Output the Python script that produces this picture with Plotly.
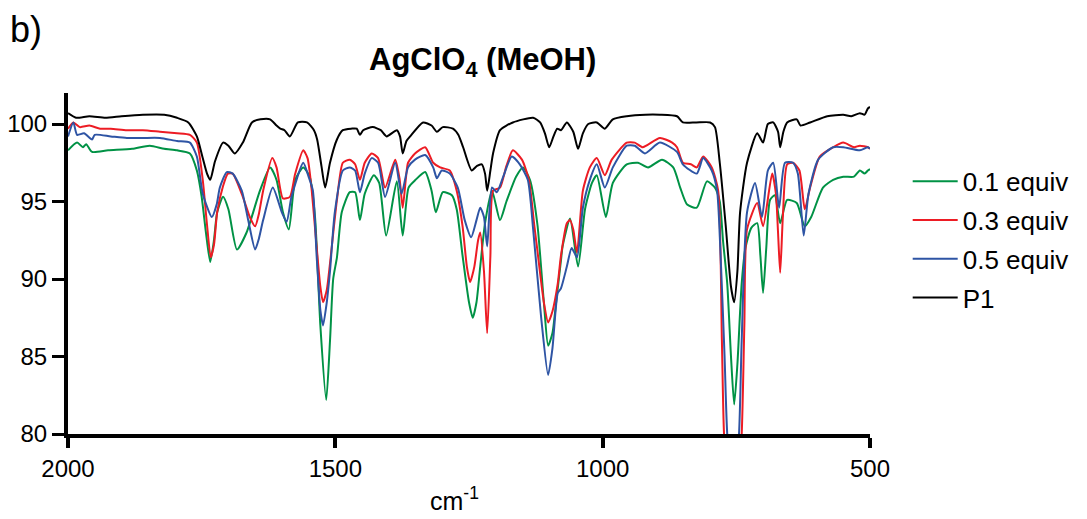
import plotly.graph_objects as go

# ---- data (wavenumber in cm-1, transmittance %) ----
p1_x = [2000, 1985, 1960, 1930, 1900, 1860, 1820, 1796, 1775, 1759, 1748, 1740, 1734, 1725, 1710, 1700, 1688, 1673,
        1656, 1640, 1622, 1610, 1603, 1595, 1585, 1570, 1553, 1540, 1534, 1526, 1519, 1510, 1497, 1486, 1470, 1460,
        1454, 1448, 1430, 1415, 1404, 1385, 1379, 1374, 1367, 1360, 1336, 1320, 1310, 1299, 1280, 1270, 1261, 1245,
        1235, 1226, 1220, 1216, 1210, 1205, 1192, 1168, 1130, 1117, 1108, 1100, 1092, 1085, 1078, 1067, 1055, 1046,
        1037, 1027, 1011, 996, 981, 955, 920, 893, 861, 850, 825, 799, 790, 781, 770, 760, 754, 748, 743, 730, 711,
        700, 691, 681, 672, 668, 662, 655, 637, 630, 612, 580, 550, 535, 519, 510, 504, 500]
p1_y = [100.7, 100.4, 100.5, 100.4, 100.5, 100.6, 100.6, 100.4, 100.1, 99.2, 97.8, 96.8, 96.4, 97.6, 98.8, 98.6, 98.1,
        98.8, 100.1, 100.3, 100.3, 99.9, 99.7, 99.6, 99.2, 100.1, 100.1, 99.6, 99.0, 97.3, 95.9, 97.5, 99.0, 99.6,
        99.7, 99.7, 99.3, 99.6, 99.8, 99.6, 99.2, 99.6, 99.2, 98.1, 98.9, 99.2, 100.1, 99.9, 99.5, 99.8, 99.7, 99.3,
        98.5, 97.0, 97.3, 97.4, 96.8, 95.7, 97.0, 98.1, 99.6, 100.1, 100.4, 100.1, 99.4, 98.5, 99.2, 99.7, 99.6,
        100.1, 99.5, 98.4, 99.4, 100.0, 100.1, 99.7, 100.3, 100.5, 100.6, 100.6, 100.5, 100.1, 100.1, 100.1, 99.8,
        97.5, 93.5, 89.5, 88.5, 90.5, 94.3, 97.5, 99.4, 98.8, 100.0, 100.1, 99.5, 98.5, 99.5, 100.1, 100.3, 99.9,
        100.1, 100.5, 100.6, 100.5, 100.7, 100.6, 101.0, 101.1]

eq03_x = [2000, 1990, 1978, 1960, 1940, 1920, 1890, 1860, 1828, 1796, 1772, 1759, 1748, 1740, 1733, 1727, 1721, 1710,
          1701, 1692, 1673, 1660, 1650, 1643, 1635, 1618, 1610, 1598, 1585, 1575, 1560, 1552, 1545, 1535, 1528, 1523,
          1516, 1510, 1497, 1486, 1473, 1463, 1454, 1445, 1432, 1420, 1407, 1388, 1380, 1374, 1368, 1364, 1351, 1332,
          1317, 1304, 1286, 1273, 1262, 1254, 1248, 1240, 1233, 1229, 1222, 1216, 1210, 1205, 1192, 1180, 1168, 1151,
          1138, 1128, 1123, 1110, 1102, 1094, 1084, 1078, 1067, 1061, 1055, 1048, 1037, 1024, 1011, 996, 983, 955,
          940, 925, 893, 870, 861, 850, 835, 824, 812, 796, 784, 777, 773, 760, 745, 740, 735, 730, 711, 700, 683,
          676, 672, 668, 663, 655, 644, 632, 622, 612, 594, 569, 550, 530, 519, 504, 500]
eq03_y = [99.7, 100.1, 99.8, 99.9, 99.7, 99.7, 99.6, 99.6, 99.5, 99.4, 99.3, 98.8, 96.4, 93.5, 91.4, 92.2, 94.3, 96.0,
          96.8, 96.8, 95.3, 94.0, 93.4, 94.2, 95.7, 97.8, 97.2, 95.2, 95.3, 96.8, 98.3, 97.8, 96.0, 92.1, 89.5, 88.5,
          89.3, 91.0, 95.1, 97.5, 97.7, 97.4, 96.4, 97.5, 98.1, 97.8, 95.9, 97.7, 96.5, 94.6, 96.5, 97.5, 98.1, 98.5,
          97.5, 97.2, 97.0, 95.7, 93.4, 90.8, 89.8, 90.8, 92.5, 93.0, 90.5, 86.5, 91.5, 95.7, 95.9, 97.3, 98.3, 97.7,
          96.4, 93.5, 92.1, 88.5, 87.2, 87.9, 89.7, 91.5, 93.6, 93.8, 93.2, 91.7, 95.7, 97.2, 97.8, 96.7, 97.7, 98.8,
          98.8, 98.5, 99.1, 98.8, 98.5, 97.5, 97.4, 97.2, 97.9, 97.2, 95.7, 86.0, 80.0, 74.0, 78.0, 80.0, 87.0, 93.2,
          94.9, 93.4, 96.8, 95.5, 93.0, 90.4, 94.0, 97.4, 97.5, 97.0, 94.5, 95.9, 97.9, 98.5, 98.8, 98.5, 98.6, 98.5,
          98.4]

eq05_x = [2000, 1990, 1983, 1970, 1955, 1950, 1920, 1890, 1860, 1828, 1796, 1772, 1759, 1748, 1731, 1722, 1716, 1703,
          1692, 1675, 1663, 1650, 1643, 1635, 1617, 1600, 1591, 1582, 1560, 1550, 1542, 1535, 1528, 1523, 1516, 1510,
          1501, 1486, 1473, 1463, 1454, 1445, 1432, 1420, 1407, 1388, 1376, 1364, 1351, 1332, 1317, 1310, 1301, 1286,
          1271, 1258, 1246, 1236, 1229, 1222, 1216, 1207, 1198, 1186, 1170, 1155, 1140, 1130, 1115, 1102, 1094, 1084,
          1078, 1067, 1058, 1048, 1037, 1024, 1011, 996, 981, 955, 940, 921, 893, 861, 850, 824, 812, 796, 786, 780,
          772, 767, 756, 745, 740, 730, 715, 702, 691, 681, 670, 659, 644, 635, 624, 615, 597, 569, 550, 519, 504, 500]
eq05_y = [99.2, 100.1, 99.3, 99.4, 99.0, 99.3, 99.2, 99.1, 99.1, 99.1, 98.9, 98.8, 97.9, 95.5, 94.0, 94.8, 95.9, 96.9,
          96.8, 95.7, 93.8, 91.9, 92.6, 93.8, 95.9, 94.3, 93.7, 95.3, 97.5, 96.6, 95.7, 91.5, 88.0, 87.0, 88.5, 90.5,
          94.3, 97.0, 97.2, 97.0, 95.6, 96.8, 97.8, 97.5, 95.3, 97.5, 95.5, 97.2, 97.7, 98.0, 97.2, 96.5, 97.0, 96.8,
          95.9, 93.8, 92.7, 93.8, 94.6, 94.0, 92.1, 95.9, 95.6, 96.6, 97.9, 97.4, 96.4, 93.2, 87.5, 83.8, 85.5, 89.1,
          89.4, 90.8, 92.0, 91.4, 94.6, 96.4, 97.4, 95.9, 97.2, 98.6, 98.6, 98.1, 98.8, 98.2, 97.4, 96.8, 97.8, 97.0,
          95.7, 92.0, 85.0, 80.0, 76.0, 80.0, 86.0, 94.3, 96.2, 94.0, 97.0, 97.5, 94.6, 97.5, 97.5, 96.8, 92.8, 95.5,
          97.7, 98.5, 98.5, 98.3, 98.5, 98.4]

eq01_x = [2000, 1983, 1972, 1966, 1955, 1925, 1880, 1847, 1820, 1796, 1772, 1759, 1750, 1742, 1734, 1727, 1721, 1710,
          1700, 1684, 1666, 1641, 1622, 1610, 1598, 1587, 1575, 1560, 1548, 1538, 1528, 1517, 1510, 1504, 1497, 1488,
          1473, 1463, 1454, 1445, 1428, 1418, 1405, 1385, 1374, 1363, 1350, 1332, 1320, 1312, 1299, 1282, 1273, 1262,
          1250, 1243, 1236, 1229, 1220, 1207, 1192, 1180, 1162, 1149, 1136, 1122, 1110, 1102, 1094, 1087, 1078, 1075,
          1061, 1046, 1033, 1020, 1011, 994, 981, 955, 934, 915, 889, 868, 855, 842, 824, 805, 790, 781, 775, 767,
          760, 754, 748, 740, 733, 722, 711, 705, 700, 694, 687, 678, 668, 655, 637, 622, 610, 588, 569, 550, 530,
          519, 510, 504, 500]
eq01_y = [98.3, 98.8, 98.5, 98.7, 98.2, 98.3, 98.4, 98.6, 98.4, 98.3, 98.1, 97.0, 95.3, 93.0, 91.1, 92.5, 94.3, 95.3,
          94.5, 91.9, 93.0, 95.7, 97.2, 96.4, 94.3, 93.2, 96.4, 97.2, 96.6, 94.0, 87.0, 82.2, 86.0, 90.0, 91.4, 94.3,
          95.6, 95.6, 93.8, 95.5, 96.7, 96.2, 92.8, 96.3, 92.8, 95.9, 96.4, 96.9, 95.7, 94.3, 95.6, 95.4, 94.5, 91.5,
          88.5, 87.5, 88.5, 90.8, 93.6, 95.7, 93.8, 95.0, 96.6, 97.2, 96.4, 93.5, 88.5, 85.7, 86.5, 88.5, 91.2, 92.1,
          93.9, 90.8, 94.5, 96.2, 96.7, 94.0, 96.2, 97.4, 97.5, 97.2, 97.7, 97.2, 95.9, 94.8, 94.6, 96.3, 95.9, 95.0,
          92.5, 89.7, 85.0, 81.9, 84.5, 89.7, 92.0, 93.3, 93.6, 91.5, 89.1, 92.0, 95.1, 95.4, 93.6, 95.1, 94.9, 93.4,
          94.0, 95.9, 96.4, 96.6, 96.6, 97.0, 96.8, 97.0, 97.1]

series = [
    ("0.1 equiv", eq01_x, eq01_y, "#009245"),
    ("0.3 equiv", eq03_x, eq03_y, "#ed1c24"),
    ("0.5 equiv", eq05_x, eq05_y, "#2e54a4"),
    ("P1", p1_x, p1_y, "#000000"),
]

x_ticks = [2000, 1500, 1000, 500]
y_ticks = [80, 85, 90, 95, 100]

FONT = "Liberation Sans, Arial, sans-serif"

fig = go.Figure()
for i, (name, xs, ys, col) in enumerate(series):
    fig.add_trace(go.Scatter(
        x=xs, y=ys, mode="lines", name=name, legendgroup=f"g{i}",
        line=dict(color=col, width=2, shape="spline", smoothing=0.6),
    ))

# page body adds an 8px offset, so the figure is drawn 8px smaller and shifted
fig.update_layout(
    width=1079, height=511,
    margin=dict(l=60, r=217, t=85, b=85),
    paper_bgcolor="white", plot_bgcolor="white",
    font=dict(family=FONT, size=24, color="black"),
    showlegend=True,
    legend=dict(x=1.047, xanchor="left", y=0.81, yanchor="top",
                font=dict(family=FONT, size=26, color="black"),
                tracegroupgap=2, itemwidth=45, bgcolor="rgba(0,0,0,0)"),
    xaxis=dict(range=[2000, 500], tickvals=x_ticks, ticktext=[str(v) for v in x_ticks],
               showline=True, linewidth=4, linecolor="black", ticks="outside",
               ticklen=10, tickwidth=4, tickcolor="black", showgrid=False, zeroline=False,
               automargin=False, tickfont=dict(family=FONT, size=24)),
    yaxis=dict(range=[80, 102], tickvals=y_ticks, ticktext=[str(v) for v in y_ticks],
               showline=True, linewidth=4, linecolor="black", ticks="outside",
               ticklen=12, tickwidth=3, tickcolor="black", showgrid=False, zeroline=False,
               automargin=False, tickfont=dict(family=FONT, size=24)),
)

fig.add_annotation(text="<b>AgClO<sub>4</sub> (MeOH)</b>", xref="paper", yref="paper",
                   x=0.517, y=1.09, xanchor="center", yanchor="middle", showarrow=False,
                   font=dict(family=FONT, size=31, color="black"))
fig.add_annotation(text="b)", xref="paper", yref="paper",
                   x=-0.075, y=1.185, xanchor="left", yanchor="middle", showarrow=False,
                   font=dict(family=FONT, size=36, color="black"))
fig.add_annotation(text="cm<sup>-1</sup>", xref="paper", yref="paper",
                   x=0.4825, y=-0.19, xanchor="center", yanchor="middle", showarrow=False,
                   font=dict(family=FONT, size=25, color="black"))

fig.write_html("out.html")
